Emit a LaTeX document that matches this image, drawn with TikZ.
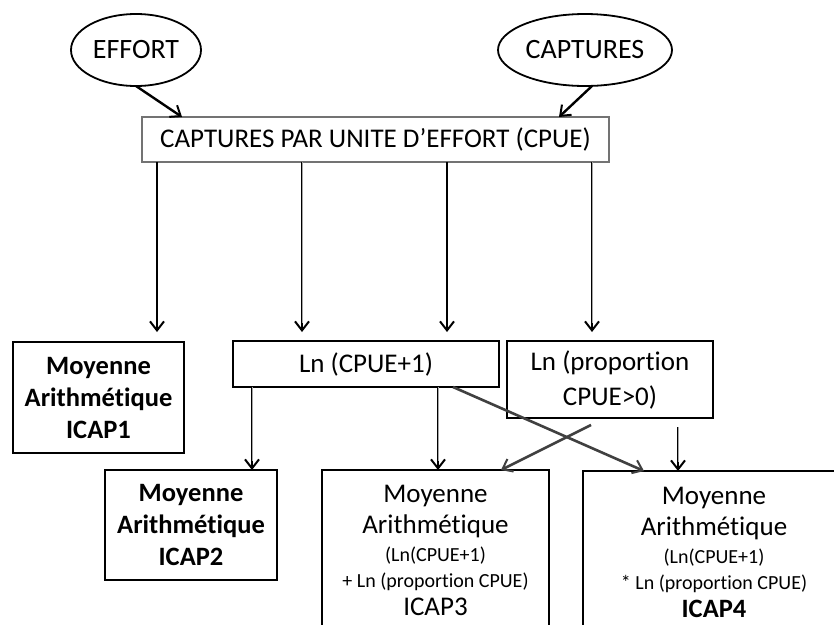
\documentclass[tikz,border=0pt]{standalone}
\usepackage{fontspec}
\setmainfont[Ligatures=NoCommon]{Carlito}
\usetikzlibrary{arrows.meta,calc,shapes.geometric}
\begin{document}
\begin{tikzpicture}[x=1pt,y=-1pt,
 every node/.style={inner sep=0pt, outer sep=0pt},
 base/.style={font=\fontsize{27}{32}\selectfont, align=center},
 boldbase/.style={font=\fontsize{26.5}{32}\selectfont\bfseries, align=center},
 small/.style={font=\fontsize{20}{24}\selectfont},
 oval/.style={ellipse, draw, line width=1.8pt, font=\fontsize{28}{32}\selectfont},
 topbox/.style={base, draw=black!55, line width=1.3pt, rectangle},
 box/.style={draw, line width=2.4pt, rectangle},
 tip/.style={-{Straight Barb[length=9pt,width=14pt,line width=2pt]}},
 arr/.style={tip, line width=2.4pt},
 thinarr/.style={tip, line width=1.4pt},
 dbl/.style={tip, line width=2.8pt, postaction={draw=black!35, line width=0.9pt, shorten >=9pt, -}},
 cross/.style={-{Straight Barb[length=9pt,width=14pt,line width=2pt]}, line width=2.6pt, draw=black!75},
]
\useasboundingbox (0,0) rectangle (834,624);
\clip (0,0) rectangle (834,624);
\fill[white] (0,0) rectangle (834,624);

\node[oval, minimum width=130, minimum height=72] (effort) at (136,50) {EFFORT};
\node[oval, minimum width=174, minimum height=72] (captures) at (585,50) {CAPTURES};
\node[topbox, minimum width=467, minimum height=45] (cpue) at (375.5,139.5) {CAPTURES PAR UNITE D’EFFORT (CPUE)};

\node[box, boldbase, minimum width=171, minimum height=111] (icap1) at (98.5,397.5) {Moyenne\\Arithmétique\\ICAP1};
\node[box, base, minimum width=266, minimum height=46] (lncpue) at (366,364) {Ln (CPUE+1)};
\node[box, base, minimum width=206, minimum height=77] (prop) at (610,379.5) {Ln (proportion\\[3pt]CPUE>0)};
\node[box, boldbase, minimum width=172, minimum height=110] (icap2) at (191,525) {Moyenne\\Arithmétique\\ICAP2};

\node[box, minimum width=227, minimum height=200, anchor=north west] (icap3) at (322,470) {};
\node[base, anchor=base] (i3a) at (435.5,502) {Moyenne};
\node[base, anchor=base] (i3b) at (435.5,533) {Arithmétique};
\node[small, anchor=base] (i3c) at (435.5,561) {(Ln(CPUE+1)};
\node[small, anchor=base] (i3d) at (435.5,587) {+ Ln (proportion CPUE)};
\node[base, anchor=base] (i3e) at (435.5,615) {ICAP3};

\node[box, minimum width=262, minimum height=200, anchor=north west] (icap4) at (583,471) {};
\node[base, anchor=base] (i4a) at (714,504) {Moyenne};
\node[base, anchor=base] (i4b) at (714,535) {Arithmétique};
\node[small, anchor=base] (i4c) at (714,563) {(Ln(CPUE+1)};
\node[small, anchor=base] (i4d) at (714,589) {* Ln (proportion CPUE)};
\node[boldbase, anchor=base] (i4e) at (714,617) {ICAP4};

\draw[arr] (effort.south) -- ($(cpue.north west)+(40,0)$);
\draw[arr] ($(captures.south)+(7,0)$) -- ($(cpue.north east)+(-50,0)$);

\draw[arr] ($(cpue.south west)+(15,0)$) -- ($(icap1.north west)+(144,-10)$);
\draw[dbl] ($(cpue.south west)+(160,0)$) -- ($(lncpue.north west)+(69,-9)$);
\draw[thinarr] ($(cpue.south west)+(305,0)$) -- ($(lncpue.north west)+(214,-9)$);
\draw[dbl] ($(cpue.south west)+(450,0)$) -- ($(prop.north west)+(85,-9)$);

\draw[dbl] ($(lncpue.south west)+(19,0)$) -- ($(icap2.north west)+(147,0)$);
\draw[dbl] ($(lncpue.south west)+(205,0)$) -- ($(icap3.north west)+(116,0)$);
\draw[cross] ($(lncpue.south west)+(220,0)$) -- ($(icap4.north west)+(61,0)$);
\draw[cross] ($(prop.south west)+(84,7)$) -- ($(icap3.north east)+(-48,0)$);
\draw[dbl] ($(prop.south west)+(171,9)$) -- ($(icap4.north west)+(95,0)$);
\end{tikzpicture}
\end{document}
